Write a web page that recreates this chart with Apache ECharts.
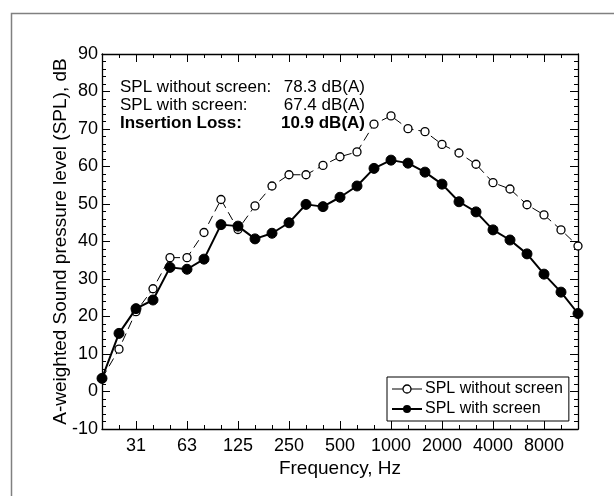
<!DOCTYPE html>
<html>
<head>
<meta charset="utf-8">
<script src="https://cdn.jsdelivr.net/npm/echarts@6/dist/echarts.min.js"></script>
<style>
  html, body { margin: 0; padding: 0; background: #fff; }
  #main { width: 614px; height: 496px; }
</style>
</head>
<body>
<div id="main"></div>
<script>
// 1/3 octave band centre frequencies, Hz
const bands = ['20', '25', '31.5', '40', '50', '63', '80', '100', '125', '160', '200', '250', '315', '400',
  '500', '630', '800', '1000', '1250', '1600', '2000', '2500', '3150', '4000', '5000', '6300', '8000', '10000', '12500']
// bands that get a label, and the text shown
const tickBands = ['31.5', '63', '125', '250', '500', '1000', '2000', '4000', '8000']
const tickLabels = ['31', '63', '125', '250', '500', '1000', '2000', '4000', '8000']

// A-weighted SPL, dB
const splWithout = [3.5, 11.3, 21.3, 27.4, 35.7, 35.7, 42.4, 51.2, 43.2, 49.5, 54.8, 57.8, 57.8, 60.3, 62.6,
  63.9, 71.3, 73.5, 70.1, 69.3, 65.9, 63.6, 60.6, 55.7, 54.0, 49.8, 47.1, 43.1, 38.8]
const splWith = [3.5, 15.5, 22.1, 24.4, 33.1, 32.6, 35.3, 44.5, 44.1, 40.7, 42.2, 45.0, 49.9, 49.3, 51.8,
  54.8, 59.5, 61.7, 60.9, 58.5, 55.3, 50.6, 47.9, 43.1, 40.4, 36.7, 31.3, 26.5, 20.8]

// summary text
const summaryNames = ['SPL without screen:', 'SPL with screen:', 'Insertion Loss:']
const summaryValues = ['78.3 dB(A)', '67.4 dB(A)', '10.9 dB(A)']

const font = '"Liberation Sans", Arial, Helvetica, sans-serif'
const isMajor = (i, v) => tickBands.includes(v)

// 类目轴 (上下各两条：细刻度 + 主刻度)
function catAxis(pos, major, labels) {
  return {
    type: 'category',
    position: pos,
    data: bands,
    boundaryGap: false,
    axisLine: { show: !major, onZero: false, lineStyle: { color: '#000', width: 1.3 } },
    axisTick: {
      show: true,
      inside: true,
      length: major ? 8 : 4,
      interval: major ? isMajor : 0,
      lineStyle: { color: '#000', width: 1 }
    },
    axisLabel: labels ? {
      show: true,
      interval: isMajor,
      formatter: v => tickLabels[tickBands.indexOf(v)],
      color: '#000',
      fontSize: 18,
      fontFamily: font,
      margin: 8
    } : { show: false },
    splitLine: { show: false },
    name: labels ? 'Frequency, Hz' : '',
    nameLocation: 'middle',
    nameGap: 30,
    nameMoveOverlap: false,
    nameTextStyle: { color: '#000', fontSize: 19, fontFamily: font }
  }
}

function valAxis(pos, labels) {
  return {
    type: 'value',
    position: pos,
    min: -10,
    max: 90,
    interval: 10,
    axisLine: { show: true, lineStyle: { color: '#000', width: 1.3 } },
    axisTick: { show: true, inside: true, length: 8, lineStyle: { color: '#000' } },
    minorTick: { show: true, splitNumber: 5, length: 4, lineStyle: { color: '#000' } },
    axisLabel: labels ? { color: '#000', fontSize: 18, fontFamily: font, margin: 4 } : { show: false },
    splitLine: { show: false },
    name: labels ? 'A-weighted Sound pressure level (SPL), dB' : '',
    nameLocation: 'middle',
    nameGap: 32,
    nameMoveOverlap: false,
    nameTextStyle: { color: '#000', fontSize: 19, fontFamily: font }
  }
}

const summary = []
summaryNames.forEach((t, i) => {
  const bold = i === 2 ? 'bold' : 'normal'
  summary.push({
    type: 'text', left: 120, top: 79 + i * 18,
    style: { text: t, fill: '#000', font: bold + ' 17px ' + font }
  })
  summary.push({
    type: 'text', right: 614 - 365, top: 79 + i * 18,
    style: { text: summaryValues[i], fill: '#000', font: bold + ' 17px ' + font }
  })
})

const chart = echarts.init(document.getElementById('main'), null, { renderer: 'canvas' })
chart.setOption({
  animation: false,
  backgroundColor: '#fff',
  textStyle: { fontFamily: font },
  grid: { left: 102, right: 36, top: 54, bottom: 67 },
  xAxis: [
    catAxis('bottom', false, true),
    catAxis('bottom', true, false),
    catAxis('top', false, false),
    catAxis('top', true, false)
  ],
  yAxis: [valAxis('left', true), valAxis('right', false)],
  legend: {
    orient: 'vertical',
    left: 387,
    top: 377,
    padding: [4, 6, 4, 4],
    itemGap: 4,
    itemWidth: 30,
    itemHeight: 10,
    backgroundColor: '#fff',
    borderColor: '#000',
    borderWidth: 1,
    textStyle: { color: '#000', fontSize: 16, fontFamily: font, padding: [0, 0, 0, -2] },
    data: [
      { name: 'SPL without screen', itemStyle: { color: '#fff', borderColor: '#000', borderWidth: 1.3 }, lineStyle: { type: 'solid', width: 1 } },
      { name: 'SPL with screen' }
    ]
  },
  series: [
    {
      name: 'SPL without screen',
      type: 'line',
      data: splWithout,
      symbol: 'circle',
      symbolSize: 8,
      itemStyle: { color: '#fff', borderColor: '#000', borderWidth: 1.3 },
      lineStyle: { color: '#000', width: 1, type: [9, 5] },
      z: 2
    },
    {
      name: 'SPL with screen',
      type: 'line',
      data: splWith,
      symbol: 'circle',
      symbolSize: 10,
      itemStyle: { color: '#000', borderColor: '#000' },
      lineStyle: { color: '#000', width: 2 },
      z: 3
    }
  ],
  graphic: [
    {
      type: 'rect', left: 9, top: 11, silent: true,
      shape: { width: 700, height: 600 },
      style: { fill: 'none', stroke: '#808080', lineWidth: 1.5 }
    }
  ].concat(summary)
})
</script>
</body>
</html>
